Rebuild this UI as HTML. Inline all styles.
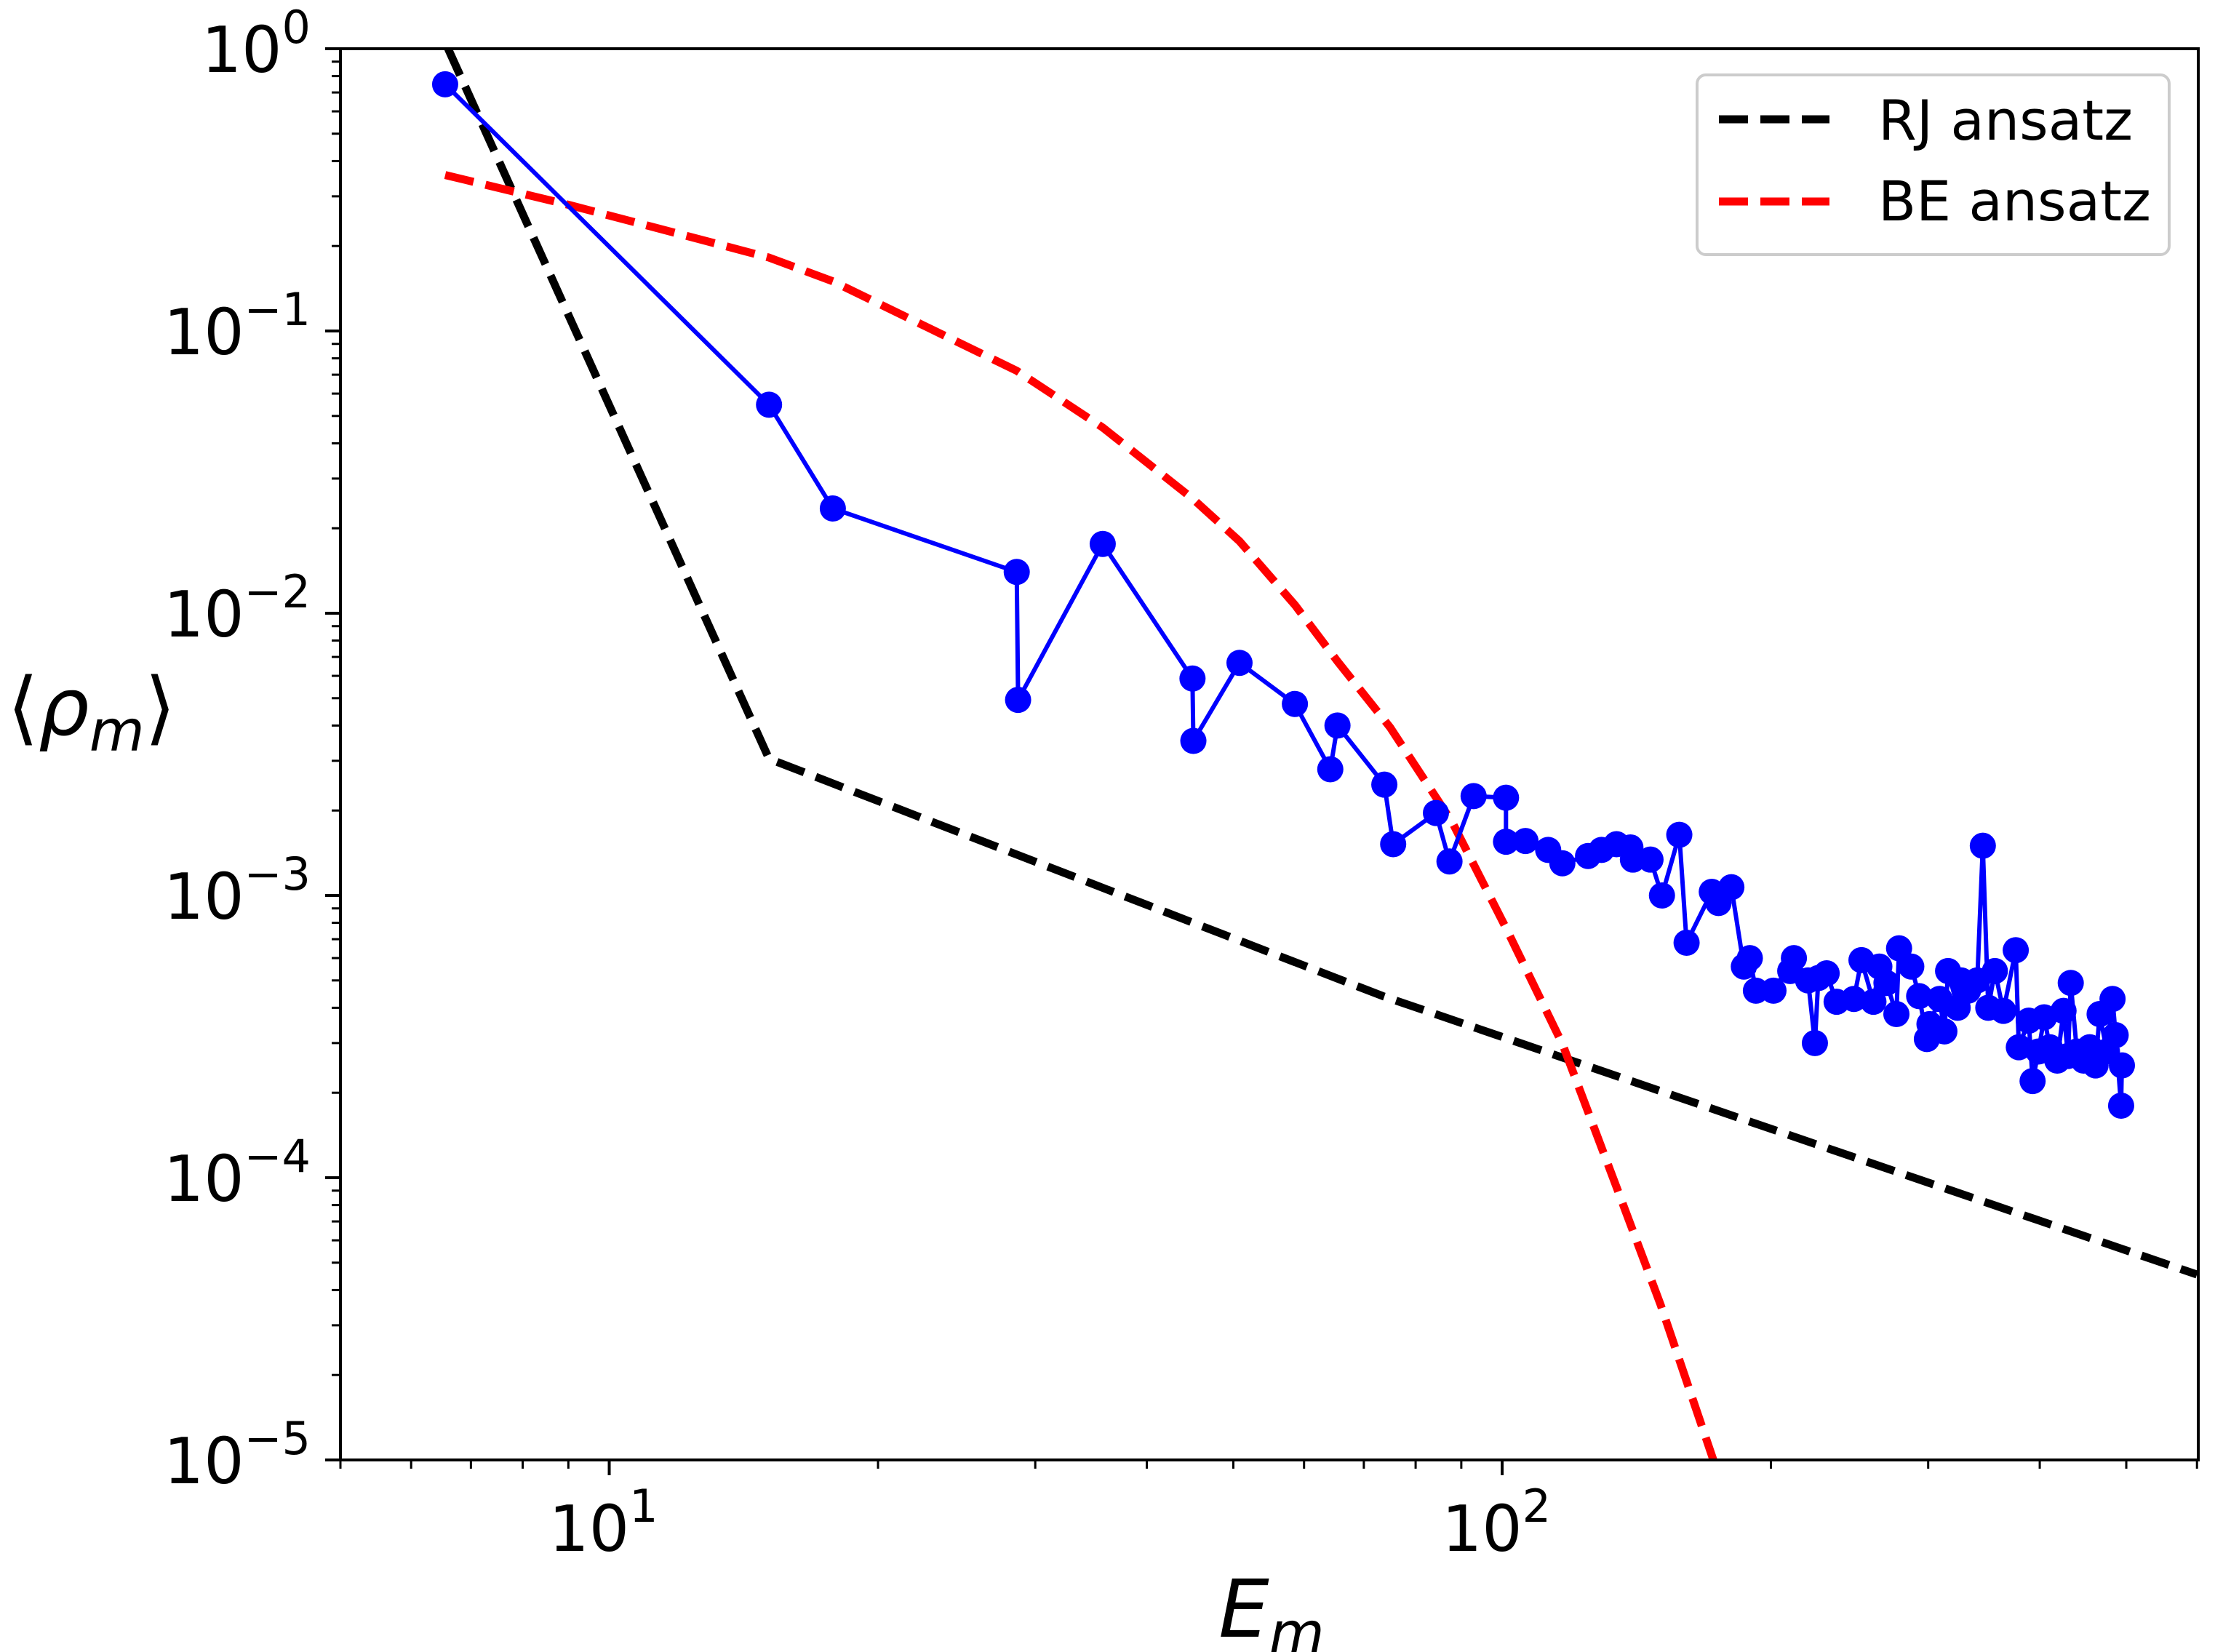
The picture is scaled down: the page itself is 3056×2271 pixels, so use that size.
<!DOCTYPE html>
<html><head><meta charset="utf-8"><style>
html,body{margin:0;padding:0;background:#fff;}
svg{display:block;font-family:"DejaVu Sans","Liberation Sans",sans-serif;}
</style></head><body>
<svg id="chart" width="3056" height="2271" viewBox="0 0 3056 2271" xmlns="http://www.w3.org/2000/svg">
<rect x="0" y="0" width="3056" height="2271" fill="#fff"/>
<defs><clipPath id="plotclip"><rect x="468" y="67" width="2554" height="1940"/></clipPath></defs>
<g id="marks" clip-path="url(#plotclip)"></g>
<g id="axes"></g>
<text x="1748" y="2250" font-size="110" font-style="italic" text-anchor="middle">E<tspan font-size="78" dy="22">m</tspan></text>
<text x="10" y="1010" font-size="110">⟨<tspan font-style="italic">ρ</tspan><tspan font-style="italic" font-size="78" dy="22">m</tspan><tspan dy="-22">⟩</tspan></text>
<g>
<rect x="2333" y="103" width="649" height="247" rx="12" fill="#fff" fill-opacity="0.8" stroke="#ccc" stroke-width="4"/>
<line x1="2363" y1="164" x2="2515" y2="164" stroke="#000" stroke-width="11" stroke-dasharray="40,17"/>
<text x="2582" y="192" font-size="76">RJ ansatz</text>
<line x1="2363" y1="277" x2="2515" y2="277" stroke="#f00" stroke-width="11" stroke-dasharray="40,17"/>
<text x="2582" y="303" font-size="76">BE ansatz</text>
</g>
</svg>
<script>
const xTicks=[10,100];
const xTickExp=["1","2"];
const yTicks=[1,0.1,0.01,0.001,0.0001,0.00001];
const yTickExp=["0","\u22121","\u22122","\u22123","\u22124","\u22125"];
const dataE=[6.55,15.1,17.8,28.6,28.7,35.7,45.0,45.1,50.8,58.6,64.2,65.4,73.8,75.5,84.3,87.3,92.9,101,101,106.2,112.6,116.8,124.8,129.2,134.3,139.2,140.1,146.6,151,157.9,160.9,171.7,174.7,180.6,186.5,189.4,192.4,201.3,212.2,210.2,220.1,224,226,230.9,236.9,247.7,252.6,260.5,264.5,269.4,276.4,278.3,287.2,293.1,299,301,308.9,312.8,315.8,323.7,326.6,332.5,340.5,345.4,350.3,356.3,364.2,376,379,388.8,392.7,398.7,404.6,410.5,418.5,425.3,430.3,433.3,440.2,448,455,461.9,466.8,475.7,482.6,486.5,493.4,494.4];
const dataRho=[0.748,0.0548,0.0235,0.0140,0.00493,0.0176,0.00587,0.00353,0.00667,0.00477,0.0028,0.004,0.00247,0.00152,0.00196,0.00132,0.00225,0.00222,0.00155,0.00156,0.00145,0.00130,0.00138,0.00145,0.00152,0.00148,0.00134,0.00134,0.001,0.00164,0.00068,0.00103,0.00094,0.00107,0.00056,0.0006,0.00046,0.00046,0.00060,0.00054,0.0005,0.0003,0.00051,0.00053,0.00042,0.00043,0.00059,0.00042,0.00056,0.00049,0.00038,0.00065,0.00056,0.00044,0.00031,0.00035,0.00043,0.00033,0.00054,0.0004,0.0005,0.00046,0.0005,0.0015,0.0004,0.00054,0.00039,0.00064,0.00029,0.00036,0.00022,0.00028,0.00037,0.00029,0.00026,0.00039,0.00027,0.00049,0.00028,0.00026,0.00029,0.00025,0.00038,0.00028,0.00043,0.00032,0.00018,0.00025];
const rjE=[6.6,15.1,73.5,600];
const rjRho=[1.0,0.00305,0.00044,4.54e-5];
const beE=[6.55,9.0,15.1,17.8,28.6,35.7,45.0,50.8,58.6,65.4,74.9,87.9,101.4,116.9,134.9,150.5,172.2,180];
const beRho=[0.357,0.28,0.182,0.15,0.0723,0.0455,0.0255,0.018,0.0107,0.00675,0.00394,0.00182,0.000748,0.000296,8.93e-5,3.54e-5,1.01e-5,6.5e-6];

const X0=468,X1=3022,Y0=67,Y1=2007;
const xmin=Math.log10(5.0),xmax=Math.log10(602);
const ymin=-5,ymax=0;
function sx(v){return X0+(Math.log10(v)-xmin)/(xmax-xmin)*(X1-X0);}
function sy(v){return Y0+(ymax-Math.log10(v))/(ymax-ymin)*(Y1-Y0);}
const NS="http://www.w3.org/2000/svg";
function mk(t,a){const e=document.createElementNS(NS,t);for(const k in a)e.setAttribute(k,a[k]);return e;}
const marks=document.getElementById('marks');
const axes=document.getElementById('axes');

function pathD(xs,ys){return xs.map((x,i)=>(i?'L':'M')+sx(x).toFixed(1)+','+sy(ys[i]).toFixed(1)).join(' ');}

const rj=mk('path',{d:pathD(rjE,rjRho),fill:'none',stroke:'#000','stroke-width':11,'stroke-dasharray':'40,17','stroke-linejoin':'round'});


marks.appendChild(rj);
const be=mk('path',{d:pathD(beE,beRho),fill:'none',stroke:'#f00','stroke-width':11,'stroke-dasharray':'40,17','stroke-linejoin':'round'});


marks.appendChild(be);
const dl=mk('path',{d:pathD(dataE,dataRho),fill:'none',stroke:'#00f','stroke-width':6,'stroke-linejoin':'round'});


marks.appendChild(dl);
dataE.forEach((e,i)=>{
  const c=mk('circle',{cx:sx(e),cy:sy(dataRho[i]),r:18,fill:'#00f'});
  
  
  marks.appendChild(c);
});

const frame=mk('rect',{x:X0,y:Y0,width:X1-X0,height:Y1-Y0,fill:'none',stroke:'#000','stroke-width':4});


axes.appendChild(frame);

for(let d=0;d<=2;d++){for(let m=1;m<10;m++){const v=m*Math.pow(10,d);const lv=Math.log10(v);if(lv<xmin||lv>xmax)continue;
  const X=sx(v);const major=(m===1);
  const t=mk('line',{x1:X,y1:Y1,x2:X,y2:Y1+(major?21:12),stroke:'#000','stroke-width':major?4:3});
  
  
  axes.appendChild(t);}}
xTicks.forEach((v,i)=>{
  const t=mk('text',{x:sx(v)-8,y:Y1+125,'font-size':87,'text-anchor':'middle'});
  
  
  t.innerHTML='10<tspan font-size="62" dy="-40">'+xTickExp[i]+'</tspan>';
  axes.appendChild(t);
});
for(let d=-5;d<0;d++){for(let m=1;m<10;m++){const v=m*Math.pow(10,d);
  const Y=sy(v);const major=(m===1);
  const t=mk('line',{x1:X0,y1:Y,x2:X0-(major?21:12),y2:Y,stroke:'#000','stroke-width':major?4:3});
  
  
  axes.appendChild(t);}}
{const t=mk('line',{x1:X0,y1:Y0,x2:X0-21,y2:Y0,stroke:'#000','stroke-width':4});
 
 
 axes.appendChild(t);}
yTicks.forEach((v,i)=>{
  const t=mk('text',{x:427,y:sy(v)+32,'font-size':87,'text-anchor':'end'});
  
  
  t.innerHTML='10<tspan font-size="62" dy="-40">'+yTickExp[i]+'</tspan>';
  axes.appendChild(t);
});
</script>
</body></html>
